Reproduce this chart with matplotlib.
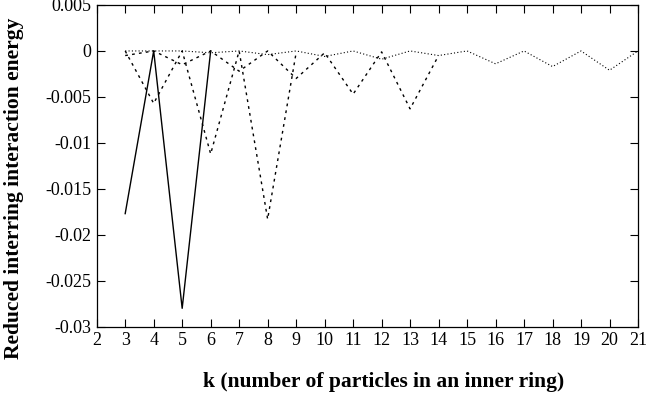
import matplotlib
matplotlib.use("Agg")
import matplotlib.pyplot as plt
from matplotlib.ticker import FuncFormatter

plt.rcParams['font.family'] = ['Liberation Serif', 'DejaVu Serif']

# solid series
k_solid = [3, 4, 5, 6]
e_solid = [-0.0177, 0.0, -0.028, 0.0]

# dashed series with dips at even k
k_even = [3, 4, 5, 6, 7, 8, 9]
e_even = [0.0, -0.0057, 0.0, -0.0112, 0.0, -0.0183, -0.0002]

# dashed series with dips at odd k
k_odd = [3, 4, 5, 6, 7, 8, 9, 10, 11, 12, 13, 14]
e_odd = [-0.0005, 0.0, -0.0015, 0.0, -0.0022, 0.0, -0.003, -0.0002,
         -0.0047, -0.0001, -0.0063, -0.0005]

# fine dotted series
k_fine = list(range(3, 22))
e_fine = [0.0, 0.0, 0.0, -0.0002, 0.0, -0.0004, 0.0, -0.0006, 0.0,
          -0.0009, 0.0, -0.0005, 0.0, -0.0014, 0.0, -0.0017, 0.0,
          -0.0021, 0.0]

xticks = list(range(2, 22))
yticks = [0.005, 0, -0.005, -0.01, -0.015, -0.02, -0.025, -0.03]

fig = plt.figure(figsize=(6.46, 3.96), dpi=100)
ax = fig.add_axes([0.1497, 0.175, 0.8379, 0.8124])

ax.plot(k_fine, e_fine, color='black', lw=0.8, linestyle=(0, (1, 2)))
ax.plot(k_odd, e_odd, color='black', lw=1.0, linestyle=(0, (2, 3)))
ax.plot(k_even, e_even, color='black', lw=1.0, linestyle=(0, (2, 3)))
ax.plot(k_solid, e_solid, color='black', lw=1.0)

ax.set_xlim(2, 21)
ax.set_ylim(-0.03, 0.005)
ax.set_xticks(xticks)
ax.set_yticks(yticks)


def fmt(v, pos):
    if abs(v) < 1e-12:
        return '0'
    return ('%g' % v)


ax.yaxis.set_major_formatter(FuncFormatter(fmt))
ax.tick_params(direction='in', top=True, right=True, labelsize=13,
               length=5.5, width=0.8, pad=4)
for s in ax.spines.values():
    s.set_linewidth(0.9)

ax.set_xlabel('k (number of particles in an inner ring)', fontsize=15.5,
              fontweight='bold')
ax.set_ylabel('Reduced interring interaction energy', fontsize=15.5,
              fontweight='bold')
ax.xaxis.set_label_coords(0.53, -0.14)
ax.yaxis.set_label_coords(-0.135, 0.43)

fig.savefig('out.png', dpi=100)
